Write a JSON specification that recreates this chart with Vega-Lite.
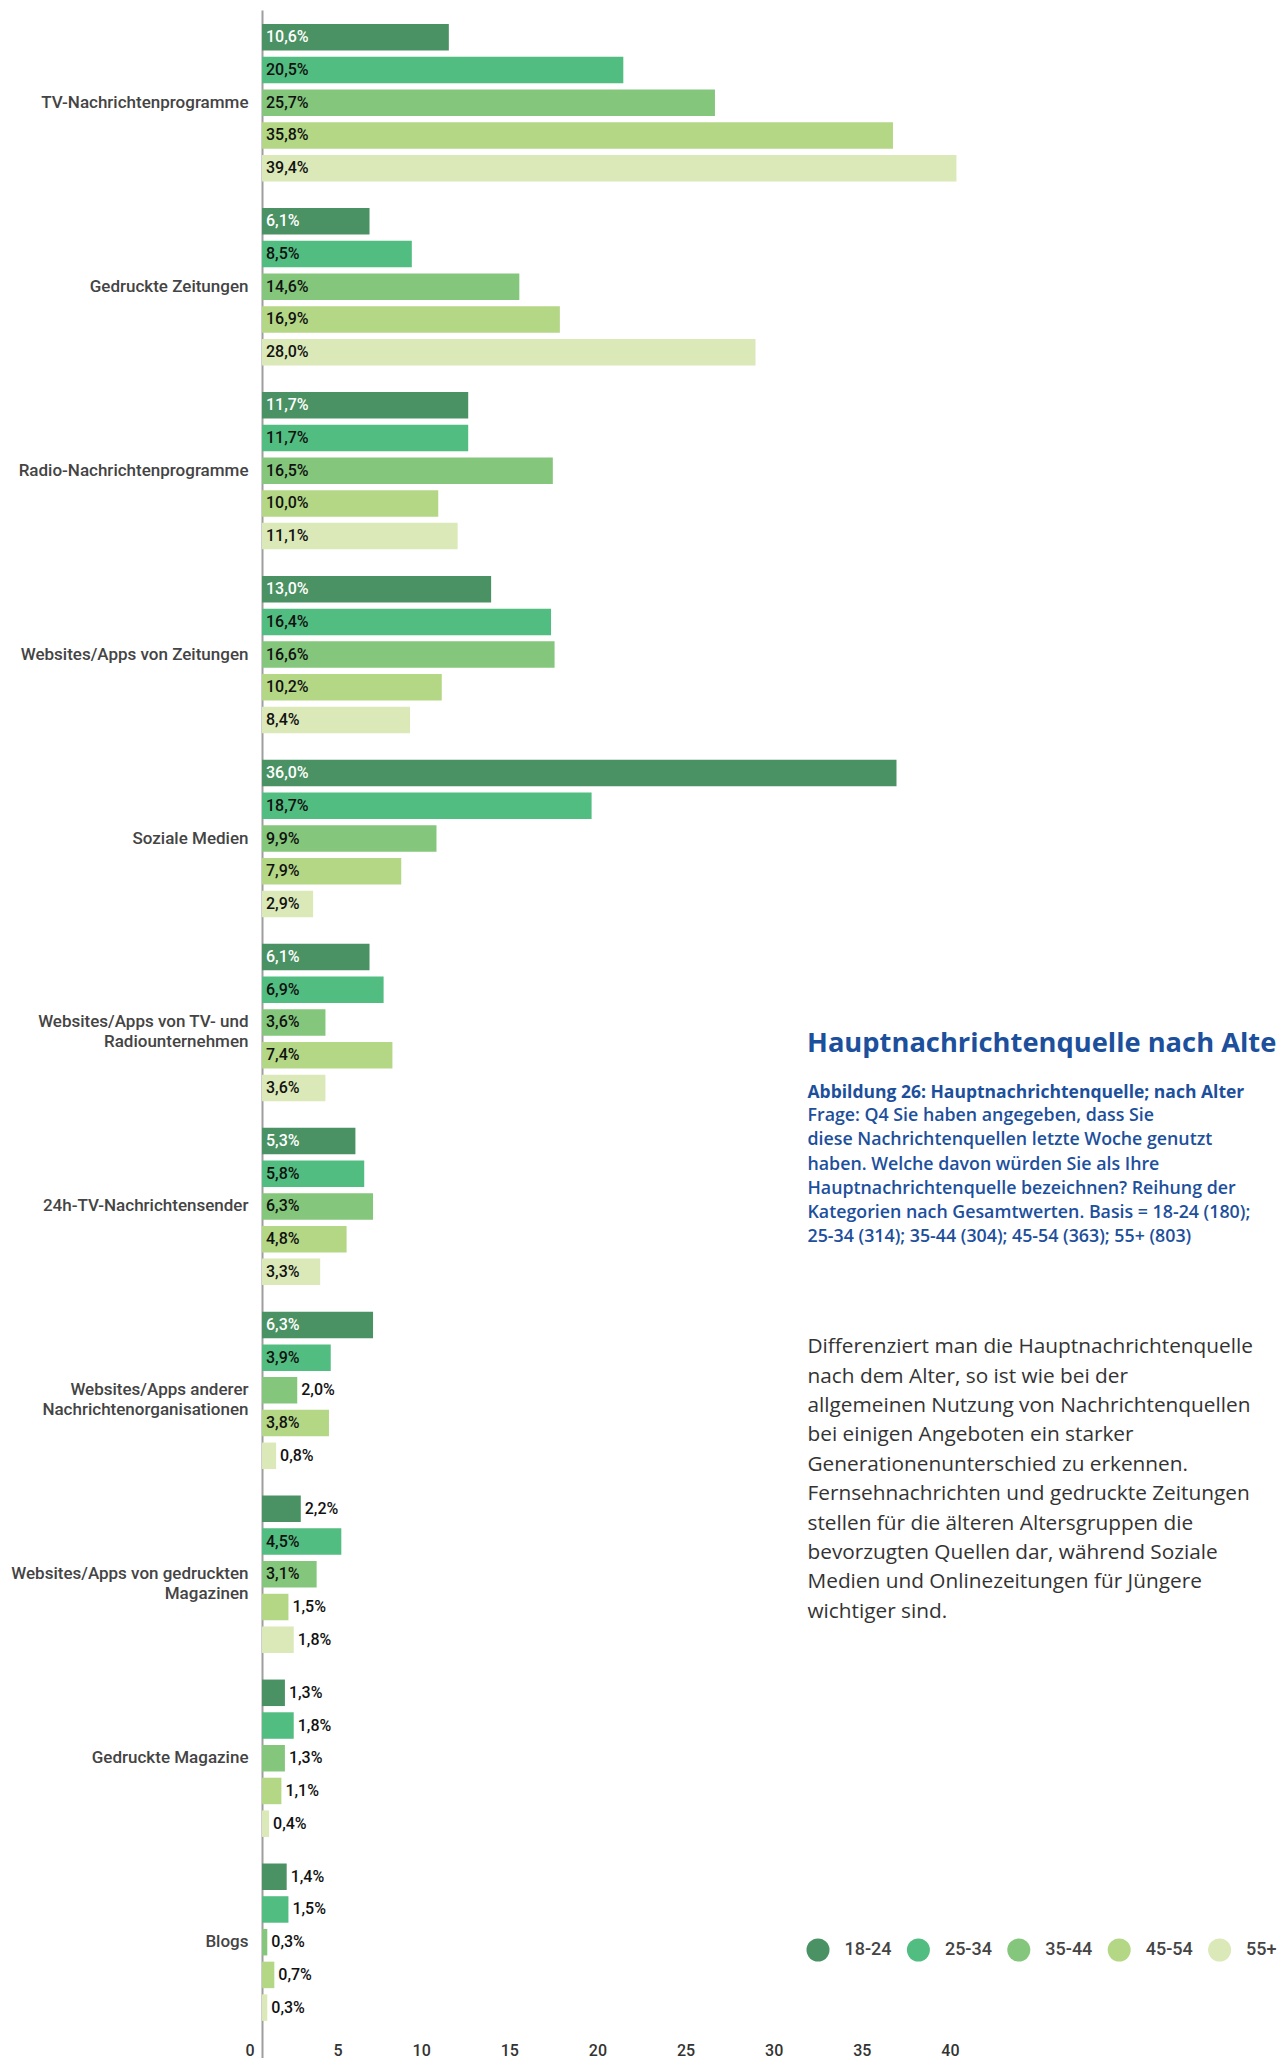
{
  "$schema": "https://vega.github.io/schema/vega-lite/v6.json",
  "width": 705,
  "height": 2048,
  "autosize": {"type": "none"},
  "padding": {"left": 262, "top": 10, "right": 310, "bottom": 0},
  "background": "white",
  "config": {"view": {"stroke": null}, "font": "Roboto"},
  "title": {
    "text": "Hauptnachrichtenquelle nach Alter",
    "orient": "top",
    "anchor": "start",
    "frame": "group",
    "dx": 545,
    "offset": -1047,
    "baseline": "top",
    "font": "Open Sans",
    "fontSize": 27.3,
    "fontWeight": "bold",
    "color": "#1c4f9c"
  },
  "data": {
    "values": [
      {"cat": "TV-Nachrichtenprogramme", "age": "18-24", "v": 10.6},
      {"cat": "TV-Nachrichtenprogramme", "age": "25-34", "v": 20.5},
      {"cat": "TV-Nachrichtenprogramme", "age": "35-44", "v": 25.7},
      {"cat": "TV-Nachrichtenprogramme", "age": "45-54", "v": 35.8},
      {"cat": "TV-Nachrichtenprogramme", "age": "55+", "v": 39.4},
      {"cat": "Gedruckte Zeitungen", "age": "18-24", "v": 6.1},
      {"cat": "Gedruckte Zeitungen", "age": "25-34", "v": 8.5},
      {"cat": "Gedruckte Zeitungen", "age": "35-44", "v": 14.6},
      {"cat": "Gedruckte Zeitungen", "age": "45-54", "v": 16.9},
      {"cat": "Gedruckte Zeitungen", "age": "55+", "v": 28.0},
      {"cat": "Radio-Nachrichtenprogramme", "age": "18-24", "v": 11.7},
      {"cat": "Radio-Nachrichtenprogramme", "age": "25-34", "v": 11.7},
      {"cat": "Radio-Nachrichtenprogramme", "age": "35-44", "v": 16.5},
      {"cat": "Radio-Nachrichtenprogramme", "age": "45-54", "v": 10.0},
      {"cat": "Radio-Nachrichtenprogramme", "age": "55+", "v": 11.1},
      {"cat": "Websites/Apps von Zeitungen", "age": "18-24", "v": 13.0},
      {"cat": "Websites/Apps von Zeitungen", "age": "25-34", "v": 16.4},
      {"cat": "Websites/Apps von Zeitungen", "age": "35-44", "v": 16.6},
      {"cat": "Websites/Apps von Zeitungen", "age": "45-54", "v": 10.2},
      {"cat": "Websites/Apps von Zeitungen", "age": "55+", "v": 8.4},
      {"cat": "Soziale Medien", "age": "18-24", "v": 36.0},
      {"cat": "Soziale Medien", "age": "25-34", "v": 18.7},
      {"cat": "Soziale Medien", "age": "35-44", "v": 9.9},
      {"cat": "Soziale Medien", "age": "45-54", "v": 7.9},
      {"cat": "Soziale Medien", "age": "55+", "v": 2.9},
      {"cat": "Websites/Apps von TV- und Radiounternehmen", "age": "18-24", "v": 6.1},
      {"cat": "Websites/Apps von TV- und Radiounternehmen", "age": "25-34", "v": 6.9},
      {"cat": "Websites/Apps von TV- und Radiounternehmen", "age": "35-44", "v": 3.6},
      {"cat": "Websites/Apps von TV- und Radiounternehmen", "age": "45-54", "v": 7.4},
      {"cat": "Websites/Apps von TV- und Radiounternehmen", "age": "55+", "v": 3.6},
      {"cat": "24h-TV-Nachrichtensender", "age": "18-24", "v": 5.3},
      {"cat": "24h-TV-Nachrichtensender", "age": "25-34", "v": 5.8},
      {"cat": "24h-TV-Nachrichtensender", "age": "35-44", "v": 6.3},
      {"cat": "24h-TV-Nachrichtensender", "age": "45-54", "v": 4.8},
      {"cat": "24h-TV-Nachrichtensender", "age": "55+", "v": 3.3},
      {"cat": "Websites/Apps anderer Nachrichtenorganisationen", "age": "18-24", "v": 6.3},
      {"cat": "Websites/Apps anderer Nachrichtenorganisationen", "age": "25-34", "v": 3.9},
      {"cat": "Websites/Apps anderer Nachrichtenorganisationen", "age": "35-44", "v": 2.0},
      {"cat": "Websites/Apps anderer Nachrichtenorganisationen", "age": "45-54", "v": 3.8},
      {"cat": "Websites/Apps anderer Nachrichtenorganisationen", "age": "55+", "v": 0.8},
      {"cat": "Websites/Apps von gedruckten Magazinen", "age": "18-24", "v": 2.2},
      {"cat": "Websites/Apps von gedruckten Magazinen", "age": "25-34", "v": 4.5},
      {"cat": "Websites/Apps von gedruckten Magazinen", "age": "35-44", "v": 3.1},
      {"cat": "Websites/Apps von gedruckten Magazinen", "age": "45-54", "v": 1.5},
      {"cat": "Websites/Apps von gedruckten Magazinen", "age": "55+", "v": 1.8},
      {"cat": "Gedruckte Magazine", "age": "18-24", "v": 1.3},
      {"cat": "Gedruckte Magazine", "age": "25-34", "v": 1.8},
      {"cat": "Gedruckte Magazine", "age": "35-44", "v": 1.3},
      {"cat": "Gedruckte Magazine", "age": "45-54", "v": 1.1},
      {"cat": "Gedruckte Magazine", "age": "55+", "v": 0.4},
      {"cat": "Blogs", "age": "18-24", "v": 1.4},
      {"cat": "Blogs", "age": "25-34", "v": 1.5},
      {"cat": "Blogs", "age": "35-44", "v": 0.3},
      {"cat": "Blogs", "age": "45-54", "v": 0.7},
      {"cat": "Blogs", "age": "55+", "v": 0.3}
    ]
  },
  "transform": [
    {"calculate": "replace(format(datum.v, '.1f'), '.', ',') + '%'", "as": "label"}
  ],
  "encoding": {
    "y": {
      "field": "cat",
      "type": "nominal",
      "sort": null,
      "scale": {"paddingInner": 0.1106, "paddingOuter": 0.1223, "align": 0.244},
      "axis": {
        "title": [
          "Frage: Q4 Sie haben angegeben, dass Sie",
          "diese Nachrichtenquellen letzte Woche genutzt",
          "haben. Welche davon würden Sie als Ihre",
          "Hauptnachrichtenquelle bezeichnen? Reihung der",
          "Kategorien nach Gesamtwerten. Basis = 18-24 (180);",
          "25-34 (314); 35-44 (304); 45-54 (363); 55+ (803)"
        ],
        "titleAngle": 0,
        "titleAlign": "left",
        "titleBaseline": "alphabetic",
        "titleX": 545,
        "titleY": 1110.7,
        "titleFont": "Open Sans",
        "titleFontSize": 17.8,
        "titleFontWeight": 600,
        "titleColor": "#1c4f9c",
        "titleLineHeight": 24.2,
        "labelFont": "Roboto",
        "labelFontSize": 17,
        "labelFontWeight": 500,
        "labelColor": "#444444",
        "labelPadding": 14,
        "labelLineHeight": 19.5,
        "labelLimit": 400,
        "labelOverlap": false,
        "labelExpr": "datum.value == 'Websites/Apps von TV- und Radiounternehmen' ? ['Websites/Apps von TV- und', 'Radiounternehmen'] : datum.value == 'Websites/Apps anderer Nachrichtenorganisationen' ? ['Websites/Apps anderer', 'Nachrichtenorganisationen'] : datum.value == 'Websites/Apps von gedruckten Magazinen' ? ['Websites/Apps von gedruckten', 'Magazinen'] : datum.label",
        "ticks": false,
        "tickSize": 0,
        "grid": false,
        "domainColor": "#9e9e9e",
        "domainWidth": 2
      }
    },
    "yOffset": {
      "field": "age",
      "type": "nominal",
      "scale": {"paddingInner": 0.19, "paddingOuter": 0.095}
    }
  },
  "layer": [
    {
      "mark": {"type": "bar"},
      "encoding": {
        "x": {
          "field": "v",
          "type": "quantitative",
          "scale": {"domain": [0, 40], "nice": false},
          "axis": {
            "orient": "bottom",
            "values": [0, 5, 10, 15, 20, 25, 30, 35, 40],
            "domain": false,
            "ticks": false,
            "tickSize": 0,
            "grid": false,
            "labelAlign": "right",
            "labelOffset": -8,
            "labelFlush": false,
            "labelOverlap": false,
            "labelPadding": -16,
            "labelBaseline": "top",
            "labelFont": "Roboto",
            "labelFontSize": 16,
            "labelFontWeight": 500,
            "labelColor": "#333333",
            "title": [
              "Differenziert man die Hauptnachrichtenquelle",
              "nach dem Alter, so ist wie bei der",
              "allgemeinen Nutzung von Nachrichtenquellen",
              "bei einigen Angeboten ein starker",
              "Generationenunterschied zu erkennen.",
              "Fernsehnachrichten und gedruckte Zeitungen",
              "stellen für die älteren Altersgruppen die",
              "bevorzugten Quellen dar, während Soziale",
              "Medien und Onlinezeitungen für Jüngere",
              "wichtiger sind."
            ],
            "titleX": 545,
            "titleY": -705.3,
            "titleAlign": "left",
            "titleBaseline": "alphabetic",
            "titleAngle": 0,
            "titleFont": "Open Sans",
            "titleFontSize": 20.8,
            "titleFontWeight": "normal",
            "titleColor": "#333333",
            "titleLineHeight": 29.4
          }
        },
        "color": {
          "field": "age",
          "type": "nominal",
          "scale": {
            "domain": ["18-24", "25-34", "35-44", "45-54", "55+"],
            "range": ["#4a9163", "#52bd80", "#84c67b", "#b4d786", "#dbe8b8"]
          },
          "legend": {
            "orient": "none",
            "legendX": 544.5,
            "legendY": 1928.5,
            "direction": "horizontal",
            "columns": 5,
            "title": null,
            "padding": 0,
            "symbolType": "circle",
            "symbolSize": 529,
            "symbolStrokeWidth": 0,
            "symbolOpacity": 1,
            "labelFont": "Roboto",
            "labelFontSize": 18,
            "labelFontWeight": 500,
            "labelColor": "#444444",
            "labelOffset": 15,
            "columnPadding": 14.4
          }
        }
      }
    },
    {
      "transform": [{"filter": "datum.v >= 2.5"}],
      "mark": {"type": "text", "align": "left", "baseline": "middle", "dx": 4, "font": "Roboto", "fontSize": 16, "fontWeight": 500},
      "encoding": {
        "x": {"datum": 0, "type": "quantitative", "axis": null},
        "text": {"field": "label"},
        "color": {"condition": {"test": "datum.age === '18-24'", "value": "#ffffff"}, "value": "#111111"}
      }
    },
    {
      "transform": [{"filter": "datum.v < 2.5"}],
      "mark": {"type": "text", "align": "left", "baseline": "middle", "dx": 4, "font": "Roboto", "fontSize": 16, "fontWeight": 500, "color": "#111111"},
      "encoding": {
        "x": {
          "field": "v",
          "type": "quantitative",
          "axis": {
            "orient": "top",
            "labels": false,
            "domain": false,
            "ticks": false,
            "grid": false,
            "title": "Abbildung 26: Hauptnachrichtenquelle; nach Alter",
            "titleX": 545,
            "titleY": 1087,
            "titleAlign": "left",
            "titleBaseline": "alphabetic",
            "titleAngle": 0,
            "titleFont": "Open Sans",
            "titleFontSize": 17.5,
            "titleFontWeight": "bold",
            "titleColor": "#1c4f9c"
          }
        },
        "text": {"field": "label"}
      }
    }
  ],
  "resolve": {"axis": {"x": "independent"}}
}
